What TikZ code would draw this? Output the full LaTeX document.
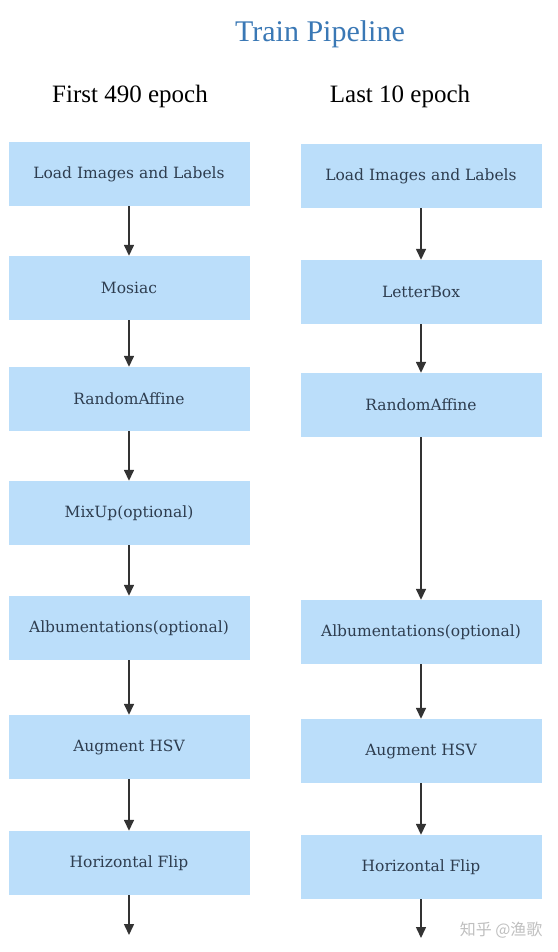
\documentclass[tikz,border=0pt]{standalone}
\usepackage{fontspec}
\setmainfont{Liberation Serif}
\newfontfamily\boxfont{DejaVu Serif}
\newfontfamily\cjk{Noto Sans CJK SC}
\usetikzlibrary{arrows.meta}
\definecolor{boxblue}{HTML}{BBDEFA}
\definecolor{boxtext}{HTML}{2E3D4F}
\definecolor{titleblue}{HTML}{3A78B5}
\definecolor{arrowgray}{HTML}{333333}
\tikzset{
  stepbox/.style={fill=boxblue, draw=none, minimum width=241pt, minimum height=64pt, inner sep=0pt,
    font=\boxfont\fontsize{15.5}{18}\selectfont, text=boxtext},
  flow/.style={draw=arrowgray, line width=1.5pt, -{Triangle[length=11pt,width=10pt]}},
  heading/.style={font=\fontsize{25}{30}\selectfont, text=black}
}
\begin{document}
\begin{tikzpicture}[x=1pt,y=-1pt]
\useasboundingbox (0,0) rectangle (557,952);
\node[font=\fontsize{30}{36}\selectfont, text=titleblue] (title) at (320,34) {Train Pipeline};
\node[heading] (h1) at (130,96) {First 490 epoch};
\node[heading] (h2) at (400,96) {Last 10 epoch};
% left column
\node[stepbox] (l1) at (129,174) {Load Images and Labels};
\node[stepbox] (l2) at (129,288) {Mosiac};
\node[stepbox] (l3) at (129,399) {RandomAffine};
\node[stepbox] (l4) at (129,513) {MixUp(optional)};
\node[stepbox] (l5) at (129,628) {Albumentations(optional)};
\node[stepbox] (l6) at (129,747) {Augment HSV};
\node[stepbox] (l7) at (129,863) {Horizontal Flip};
\coordinate (lend) at (129,935);
% right column
\node[stepbox] (r1) at (421,176) {Load Images and Labels};
\node[stepbox] (r2) at (421,292) {LetterBox};
\node[stepbox] (r3) at (421,405) {RandomAffine};
\node[stepbox] (r4) at (421,632) {Albumentations(optional)};
\node[stepbox] (r5) at (421,751) {Augment HSV};
\node[stepbox] (r6) at (421,867) {Horizontal Flip};
\coordinate (rend) at (421,938);
\foreach \a/\b in {l1/l2,l2/l3,l3/l4,l4/l5,l5/l6,l6/l7,r1/r2,r2/r3,r3/r4,r4/r5,r5/r6}
  \draw[flow] (\a.south) -- (\b.north);
\draw[flow] (l7.south) -- (lend);
\draw[flow] (r6.south) -- (rend);
\node[font=\cjk\fontsize{16}{19}\selectfont, text=black!25, anchor=east] (wm) at (546,930) {知乎 @渔歌};
\end{tikzpicture}
\end{document}
